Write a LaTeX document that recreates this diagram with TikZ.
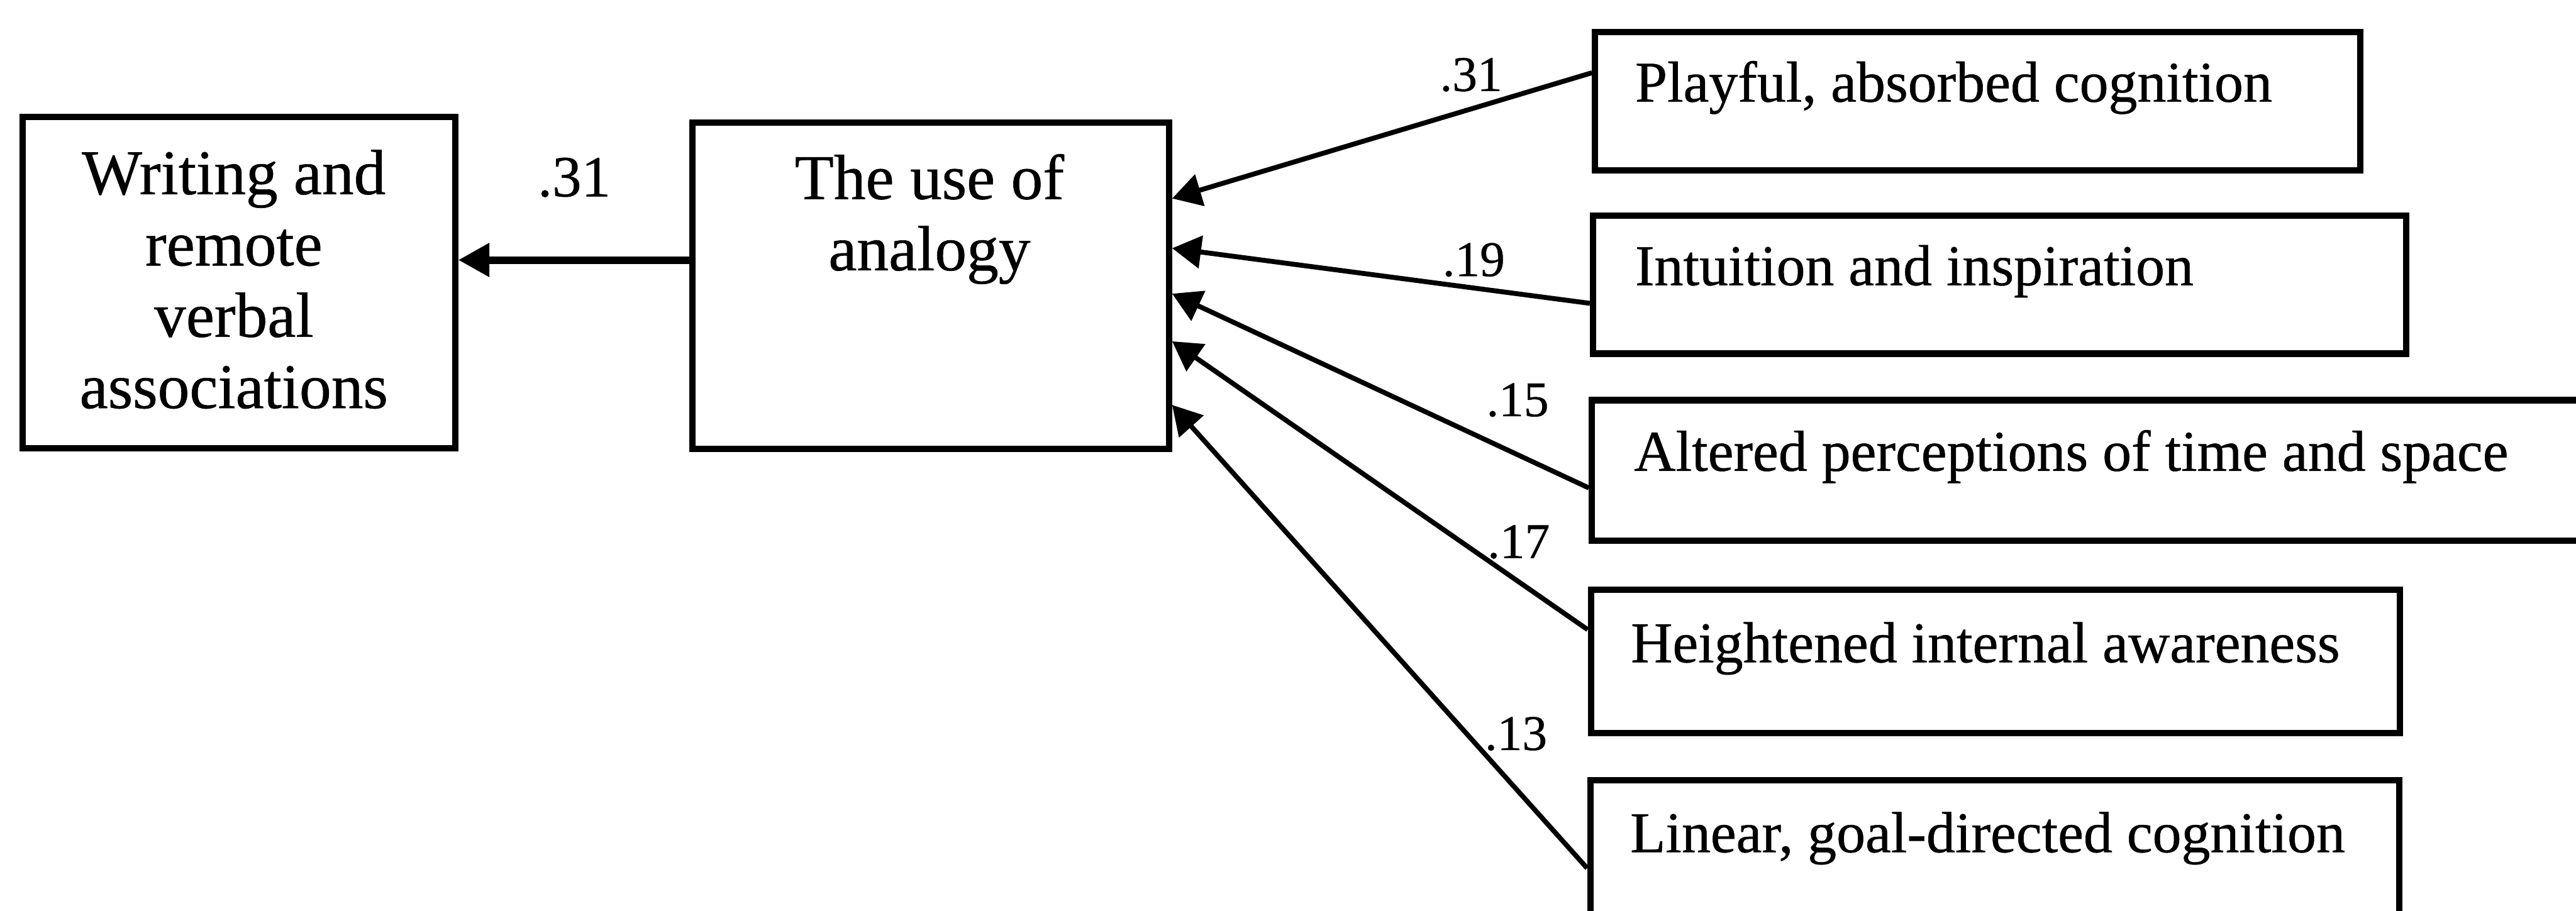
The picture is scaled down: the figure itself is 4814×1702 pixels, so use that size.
\documentclass[tikz,border=0pt]{standalone}
\usepackage{fontspec}
\setmainfont{Liberation Serif}[FakeBold=0.6]
\usetikzlibrary{arrows.meta,calc}

\begin{document}
\begin{tikzpicture}[x=0.01cm,y=-0.01cm,
  box/.style={draw, line width=3.4pt, inner sep=0pt, anchor=north west},
  bigtext/.style={anchor=base, inner sep=0pt, font=\fontsize{33.9}{37.9}\selectfont},
  rtext/.style={anchor=base west, inner sep=0pt, font=\fontsize{30.7}{36}\selectfont},
  coef/.style={anchor=base, inner sep=0pt, font=\fontsize{26.5}{30}\selectfont},
  link/.style={line width=2.6pt, -{Triangle[length=0.54cm,width=0.6cm]}}]

% page frame
\useasboundingbox (0,0) rectangle (4814,1702);

% outcome and mediator boxes
\node[box, minimum width=8.08cm, minimum height=6.19cm] (wr) at (36,213) {};
\node[box, minimum width=8.90cm, minimum height=6.10cm] (an) at (1288,223) {};
\node[bigtext] (wrtext) at (437,363)
  {\begin{tabular}[t]{@{}c@{}}Writing and\\remote\\verbal\\associations\end{tabular}};
\node[bigtext] (antext) at (1737,372)
  {\begin{tabular}[t]{@{}c@{}}The use of\\analogy\end{tabular}};

% predictor boxes
\node[box, minimum width=14.29cm, minimum height=2.58cm] (playful)    at (2975,54)   {};
\node[box, minimum width=15.19cm, minimum height=2.58cm] (intuition)  at (2971,397)  {};
\node[box, minimum width=18.81cm, minimum height=2.63cm] (altered)    at (2969,742)  {};
\node[box, minimum width=15.11cm, minimum height=2.68cm] (heightened) at (2967,1096) {};
\node[box, minimum width=15.11cm, minimum height=2.67cm] (linear)     at (2966,1453) {};

\node[rtext] (playfultext)    at ($(playful.north west)+(80,136)$)    {Playful, absorbed cognition};
\node[rtext] (intuitiontext)  at ($(intuition.north west)+(84,136)$)  {Intuition and inspiration};
\node[rtext] (alteredtext)    at ($(altered.north west)+(84,138)$)    {Altered perceptions of time and space};
\node[rtext] (heightenedtext) at ($(heightened.north west)+(80,142)$) {Heightened internal awareness};
\node[rtext] (lineartext)     at ($(linear.north west)+(80,140)$)     {Linear, goal-directed cognition};

% connector end points on the box edges
\coordinate (anout) at ($(an.north west)+(0,263)$);
\coordinate (in1) at ($(an.north east)+(0,148)$);
\coordinate (in2) at ($(an.north east)+(0,241)$);
\coordinate (in3) at ($(an.north east)+(0,326)$);
\coordinate (in4) at ($(an.north east)+(0,415)$);
\coordinate (in5) at ($(an.north east)+(0,534)$);
\coordinate (out1) at ($(playful.north west)+(0,82)$);
\coordinate (out2) at ($(intuition.north west)+(0,170)$);
\coordinate (out3) at ($(altered.north west)+(0,170)$);
\coordinate (out4) at ($(heightened.north west)+(0,81)$);
\coordinate (out5) at ($(linear.north west)+(0,170)$);

% paths
\draw[link, line width=4pt, -{Triangle[length=0.58cm,width=0.6cm]}] (anout) -- (anout -| wr.east);
\draw[link] (out1) -- (in1);
\draw[link] (out2) -- (in2);
\draw[link] (out3) -- (in3);
\draw[link] (out4) -- (in4);
\draw[link] (out5) -- (in5);

% path coefficients
\node[anchor=base, inner sep=0pt, font=\fontsize{31}{36}\selectfont] (c0) at (1073,367) {.31};
\node[coef] (c1) at (2749,170)  {.31};
\node[coef] (c2) at (2754,516)  {.19};
\node[coef] (c3) at (2836,778)  {.15};
\node[coef] (c4) at (2838,1043) {.17};
\node[coef] (c5) at (2833,1402) {.13};
\end{tikzpicture}
\end{document}
